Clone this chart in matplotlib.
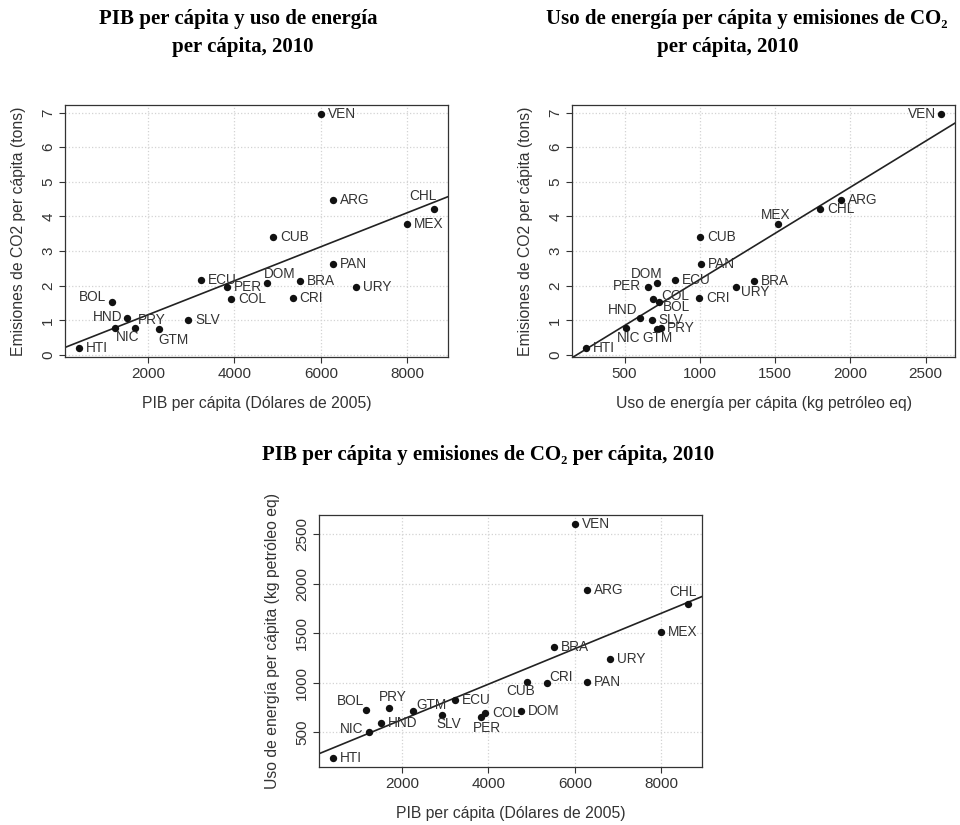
import numpy as np
import matplotlib
matplotlib.use("Agg")
import matplotlib.pyplot as plt

# datos 2010 por país
paises = ["ARG", "BOL", "BRA", "CHL", "COL", "CRI", "CUB", "DOM", "ECU", "GTM",
          "HND", "HTI", "MEX", "NIC", "PAN", "PER", "PRY", "SLV", "URY", "VEN"]
pib = [6280, 1175, 5525, 8610, 3928, 5348, 4895, 4757, 3230, 2255,
       1510, 413, 7985, 1235, 6280, 3823, 1710, 2935, 6811, 6008]
co2 = [4.47, 1.52, 2.14, 4.21, 1.63, 1.65, 3.40, 2.09, 2.17, 0.76,
       1.06, 0.21, 3.77, 0.78, 2.63, 1.97, 0.78, 1.00, 1.97, 6.95]
energia = [1935, 728, 1362, 1801, 692, 994, 1004, 718, 832, 714,
           600, 245, 1518, 508, 1010, 656, 742, 680, 1239, 2601]

titulos = [
    ["PIB per cápita y uso de energía", "per cápita, 2010"],
    ["Uso de energía per cápita y emisiones de CO\u2082", "per cápita, 2010"],
    ["PIB per cápita y emisiones de CO\u2082 per cápita, 2010"],
]
lab_pib = "PIB per cápita (Dólares de 2005)"
lab_co2 = "Emisiones de CO2 per cápita (tons)"
lab_ene = "Uso de energía per cápita (kg petróleo eq)"

# posicion de las etiquetas (dx, dy en pixeles, alineación); por defecto a la derecha
R = (7, 0, "left")
pos1 = {"CHL": (-11, 13, "center"), "DOM": (13, 9, "center"), "BOL": (-6, 5, "right"),
        "HND": (-4, 1, "right"), "PRY": (3, 8, "left"), "NIC": (1, -9, "left"),
        "GTM": (-1, -11, "left")}
pos2 = {"VEN": (-5, 0, "right"), "MEX": (-2, 9, "center"), "DOM": (-11, 9, "center"),
        "PER": (-7, 1, "right"), "COL": (8, 3, "left"), "BOL": (4, -5, "left"),
        "URY": (5, -5, "left"), "HND": (-2, 8, "right"), "PRY": (6, 0, "left"),
        "GTM": (1, -9, "center"), "NIC": (3, -10, "center")}
pos3 = {"CHL": (-5, 12, "center"), "CRI": (3, 6, "left"), "CUB": (-6, -9, "center"),
        "PER": (6, -11, "center"), "SLV": (7, -9, "center"), "GTM": (3, 6, "left"),
        "PRY": (3, 11, "center"), "BOL": (-2, 9, "right"), "NIC": (-5, 3, "right")}

plt.rcParams["font.family"] = ["Liberation Sans", "DejaVu Sans"]
gris = "#333333"

fig = plt.figure(figsize=(9.6, 8.25), dpi=100)
W, H = 960, 825


def panel(rect, x, y, xt, yt, xlab, ylab, pos):
    l, t, w, h = rect
    ax = fig.add_axes([l / W, (H - t - h) / H, w / W, h / H])
    x = np.array(x, dtype=float)
    y = np.array(y, dtype=float)
    dx = (x.max() - x.min()) * 0.04
    dy = (y.max() - y.min()) * 0.04
    ax.set_xlim(x.min() - dx, x.max() + dx)
    ax.set_ylim(y.min() - dy, y.max() + dy)
    ax.set_xticks(xt)
    ax.set_yticks(yt)
    ax.grid(color="#d3d3d3", linestyle=":", linewidth=0.9)
    ax.set_axisbelow(True)
    m, b = np.polyfit(x, y, 1)
    ax.axline((0, b), slope=m, color="#222222", lw=1.2, zorder=2)
    ax.scatter(x, y, s=28, color="#111111", zorder=3, linewidths=0)
    for i, p in enumerate(paises):
        ox, oy, ha = pos.get(p, R)
        ax.annotate(p, (x[i], y[i]), xytext=(ox, oy), textcoords="offset pixels",
                    ha=ha, va="center", fontsize=9.8, color=gris, zorder=4)
    for s in ax.spines.values():
        s.set_color(gris)
        s.set_linewidth(0.9)
    ax.tick_params(direction="out", length=4, width=0.8, color=gris,
                   labelsize=11, labelcolor=gris, pad=3)
    ax.tick_params(axis="y", labelrotation=90)
    for lb in ax.get_yticklabels():
        lb.set_va("center")
    ax.set_xlabel(xlab, fontsize=11.3, color=gris, labelpad=11)
    ax.set_ylabel(ylab, fontsize=11.3, color=gris, labelpad=11)
    return ax


panel((65, 105, 383, 252), pib, co2, [2000, 4000, 6000, 8000], range(0, 8),
      lab_pib, lab_co2, pos1)
panel((572, 105, 383, 252), energia, co2, [500, 1000, 1500, 2000, 2500], range(0, 8),
      lab_ene, lab_co2, pos2)
panel((319, 515, 383, 252), pib, energia, [2000, 4000, 6000, 8000],
      [500, 1000, 1500, 2000, 2500], lab_pib, lab_ene, pos3)

fuente_t = ["Liberation Serif", "DejaVu Serif"]
ts = 15
fig.text(238 / W, 1 - 19 / H, titulos[0][0], ha="center", va="center",
         fontsize=ts, fontweight="bold", family=fuente_t)
fig.text(243 / W, 1 - 47 / H, titulos[0][1], ha="center", va="center",
         fontsize=ts, fontweight="bold", family=fuente_t)
fig.text(747 / W, 1 - 19 / H, titulos[1][0], ha="center", va="center",
         fontsize=ts, fontweight="bold", family=fuente_t)
fig.text(728 / W, 1 - 47 / H, titulos[1][1], ha="center", va="center",
         fontsize=ts, fontweight="bold", family=fuente_t)
fig.text(488 / W, 1 - 455 / H, titulos[2][0], ha="center", va="center",
         fontsize=ts, fontweight="bold", family=fuente_t)

fig.savefig("out.png", dpi=100)
